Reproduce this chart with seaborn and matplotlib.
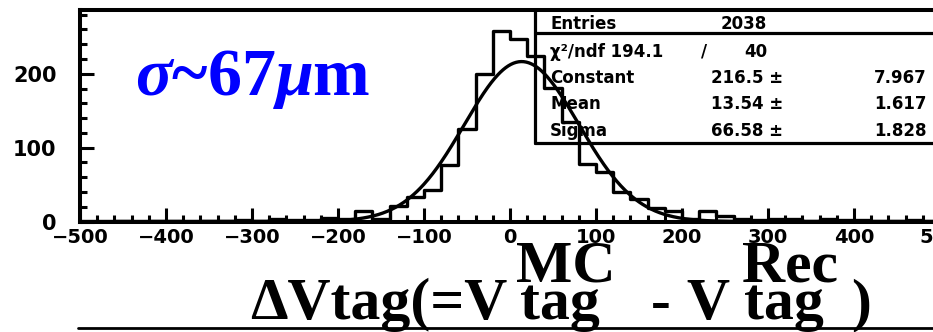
import numpy as np
import pandas as pd
import matplotlib
matplotlib.use("Agg")
import matplotlib.pyplot as plt
from matplotlib.lines import Line2D
from matplotlib.ticker import MultipleLocator
import seaborn as sns

# Vertex residual histogram: 50 bins of 20 um between -500 and 500
bin_width = 20
bin_low = np.arange(-500, 500, bin_width)
counts = [0, 0, 1, 0, 1, 1, 0, 1, 1, 2, 1, 3, 2, 2, 5,
          3, 14, 4, 21, 33, 42, 76, 125, 200, 258,
          247, 224, 181, 135, 78, 67, 40, 31, 18, 14,
          4, 14, 8, 3, 2, 4, 3, 1, 3, 2,
          2, 1, 1, 2, 1]

# Gaussian fit result
fit_const, fit_const_err = 216.5, 7.967
fit_mean, fit_mean_err = 13.54, 1.617
fit_sigma, fit_sigma_err = 66.58, 1.828
entries = 2038
chi2, ndf = 194.1, 40

x_ticks = [-500, -400, -300, -200, -100, 0, 100, 200, 300, 400, 500]
y_ticks = [0, 100, 200]

W, H = 933, 332


def fx(px):
    return px / W


def fy(py):
    return 1 - py / H


sns.set_theme(style="white")
plt.rcParams["font.family"] = ["DejaVu Sans"]
plt.rcParams.update({
    "font.weight": "bold",
    "mathtext.fontset": "custom",
    "mathtext.rm": "Liberation Serif:bold",
    "mathtext.it": "Liberation Serif:italic:bold",
    "mathtext.bf": "Liberation Serif:bold",
})

fig = plt.figure(figsize=(W / 100, H / 100), dpi=100)
ax = fig.add_axes([fx(80), fy(221.5), fx(940) - fx(80), fy(9.5) - fy(221.5)])

hist_df = pd.DataFrame({"center": bin_low + bin_width / 2,
                        "count": np.asarray(counts, dtype=float)})
sns.histplot(data=hist_df, x="center", weights="count",
             binwidth=bin_width, binrange=(-500, 500), element="step",
             fill=False, color="black", linewidth=2.4, ax=ax)

xs = np.linspace(-500, 500, 1001)
ys = fit_const * np.exp(-0.5 * ((xs - fit_mean) / fit_sigma) ** 2)
sns.lineplot(x=xs, y=ys, color="black", linewidth=2.4, ax=ax)

ax.set_xlim(-500, 500)
ax.set_ylim(0, 287)
ax.set_xticks(x_ticks)
ax.set_yticks(y_ticks)
ax.xaxis.set_minor_locator(MultipleLocator(20))
ax.yaxis.set_minor_locator(MultipleLocator(20))
ax.set_xlabel("")
ax.set_ylabel("")
ax.tick_params(which="major", direction="in", length=10, width=2.2,
               color="black", labelcolor="black")
ax.tick_params(which="minor", direction="in", length=5, width=2.2,
               color="black")
ax.tick_params(axis="x", which="both", bottom=True, top=False, pad=5,
               labelsize=14)
ax.tick_params(axis="y", which="both", left=True, right=False, pad=17,
               labelsize=15)
for lab in ax.get_xticklabels() + ax.get_yticklabels():
    lab.set_fontweight("bold")
for side in ["left", "bottom", "top"]:
    ax.spines[side].set_visible(True)
    ax.spines[side].set_linewidth(2.9)
    ax.spines[side].set_color("black")
ax.spines["right"].set_visible(False)
ax.grid(False)

# Statistics box
box_lw = 2.3
fig.add_artist(Line2D([fx(535), fx(535)], [fy(9.5), fy(143)], color="black", lw=box_lw))
fig.add_artist(Line2D([fx(535), 1.0], [fy(143), fy(143)], color="black", lw=box_lw))
fig.add_artist(Line2D([fx(535), 1.0], [fy(33), fy(33)], color="black", lw=box_lw))

stat_kw = dict(fontsize=12, fontweight="bold", color="black", va="center")
fig.text(fx(550), fy(24), "Entries", ha="left", **stat_kw)
fig.text(fx(767), fy(24), f"{entries}", ha="right", **stat_kw)
fig.text(fx(550), fy(52), f"χ²/ndf {chi2:.1f}", ha="left", **stat_kw)
fig.text(fx(704), fy(52), "/", ha="center", **stat_kw)
fig.text(fx(767), fy(52), f"{ndf}", ha="right", **stat_kw)
rows = [("Constant", fit_const, fit_const_err, 78, "{:.1f}"),
        ("Mean", fit_mean, fit_mean_err, 104, "{:.2f}"),
        ("Sigma", fit_sigma, fit_sigma_err, 131, "{:.2f}")]
for name, val, err, py, fmt in rows:
    fig.text(fx(550), fy(py), name, ha="left", **stat_kw)
    fig.text(fx(783), fy(py), fmt.format(val) + " ±", ha="right", **stat_kw)
    fig.text(fx(927), fy(py), f"{err:.3f}", ha="right", **stat_kw)

# Resolution annotation
fig.text(fx(135), fy(95), r"$\sigma$~67$\mu$m", color="#0000ff", fontsize=49,
         family="Liberation Serif", fontweight="bold", ha="left", va="baseline")

# Axis title below the frame, set piece by piece
lab_kw = dict(fontsize=43, family="Liberation Serif", fontweight="bold",
              color="black", ha="left", va="baseline")
base, raised = 319, 282
fig.text(fx(250), fy(base), "ΔVtag(=V", **lab_kw)
fig.text(fx(516), fy(raised), "MC", **lab_kw)
fig.text(fx(520), fy(base), "tag", **lab_kw)
fig.text(fx(651), fy(base), "-", **lab_kw)
fig.text(fx(686), fy(base), "V", **lab_kw)
fig.text(fx(742), fy(raised), "Rec", **lab_kw)
fig.text(fx(744), fy(base), "tag", **lab_kw)
fig.text(fx(851), fy(base), ")", **lab_kw)

fig.add_artist(Line2D([fx(78), 1.0], [fy(328), fy(328)], color="black", lw=2.0))

fig.savefig("out.png", dpi=100)
